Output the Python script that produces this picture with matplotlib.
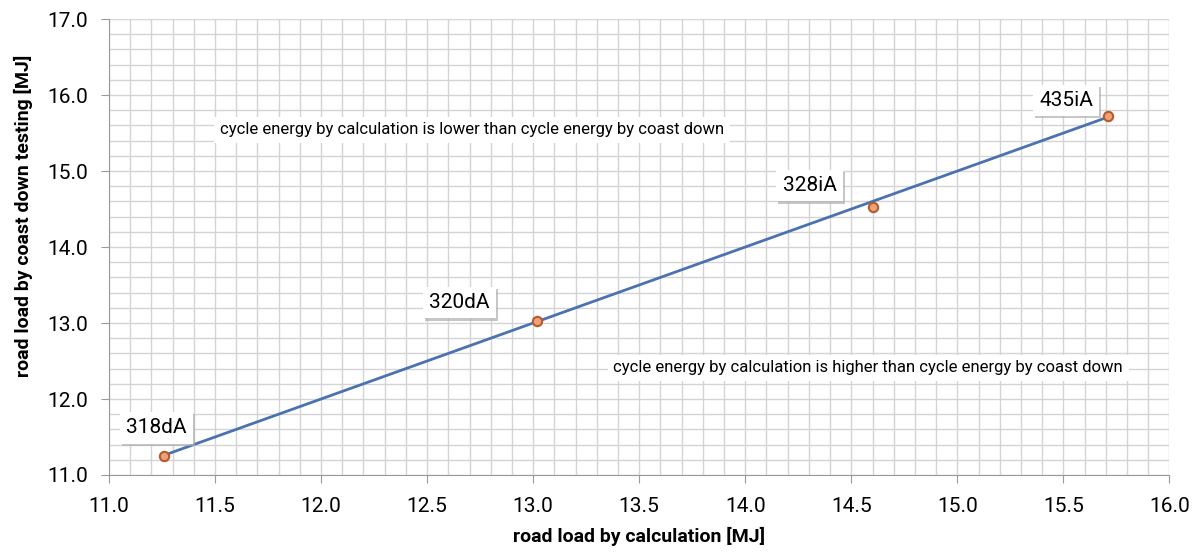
import numpy as np
import matplotlib.pyplot as plt
import matplotlib.patheffects as pe
from matplotlib.ticker import MultipleLocator

plt.rcParams['font.family'] = ['Roboto', 'DejaVu Sans']

# data
names = ["318dA", "320dA", "328iA", "435iA"]
calc = [11.26, 13.02, 14.60, 15.71]
coast = [11.25, 13.03, 14.53, 15.72]
diag = [11.26, 15.72]

# label offsets in pixels from each point
offsets = [(-8, 28), (-78, 18), (-63, 21), (-42, 16)]

fig = plt.figure(figsize=(11.97, 5.52), dpi=100)
ax = fig.add_axes([0.091, 0.1395, 0.886, 0.826])

ax.plot(diag, diag, color="#4a72b0", lw=2, zorder=3)
ax.scatter(calc, coast, s=45, facecolor="#eba27a", edgecolor="#b8592a", lw=1.5, zorder=4)

for name, x, y, off in zip(names, calc, coast, offsets):
	t = ax.annotate(name, (x, y), xytext=off, textcoords="offset pixels",
		ha="center", va="center", fontsize=15,
		bbox=dict(boxstyle="square,pad=0.3", fc="white", ec="none"), zorder=5)
	t.get_bbox_patch().set_path_effects([pe.SimplePatchShadow(offset=(1.5, -1.5), shadow_rgbFace="#b0b0b0", alpha=0.7), pe.Normal()])

ax.text(12.71, 15.54, "cycle energy by calculation is lower than cycle energy by coast down",
	ha="center", va="center", fontsize=12,
	bbox=dict(boxstyle="square,pad=0.35", fc="white", ec="none"), zorder=5)
ax.text(14.58, 12.41, "cycle energy by calculation is higher than cycle energy by coast down",
	ha="center", va="center", fontsize=12,
	bbox=dict(boxstyle="square,pad=0.35", fc="white", ec="none"), zorder=5)

ax.set_xlim(11.0, 16.0)
ax.set_ylim(11.0, 17.0)
ax.xaxis.set_major_locator(MultipleLocator(0.5))
ax.xaxis.set_minor_locator(MultipleLocator(0.1))
ax.yaxis.set_major_locator(MultipleLocator(1.0))
ax.yaxis.set_minor_locator(MultipleLocator(0.2))
ax.xaxis.set_major_formatter(lambda v, p: f"{v:.1f}")
ax.yaxis.set_major_formatter(lambda v, p: f"{v:.1f}")

ax.grid(True, which="both", color="#d4d4d4", lw=1)
ax.set_axisbelow(True)
ax.tick_params(which="major", length=6, color="#999999", labelsize=15)
ax.tick_params(axis="x", pad=10)
ax.tick_params(axis="y", pad=9)
ax.tick_params(which="minor", length=0)

for s in ["top", "right"]:
	ax.spines[s].set_visible(False)
for s in ["left", "bottom"]:
	ax.spines[s].set_color("#999999")

ax.set_xlabel("road load by calculation [MJ]", fontsize=14, fontweight="bold", labelpad=8)
ax.set_ylabel("road load by coast down testing [MJ]", fontsize=14, fontweight="bold")
ax.yaxis.set_label_coords(-0.072, 0.568)

plt.savefig("out.png", dpi=100)
